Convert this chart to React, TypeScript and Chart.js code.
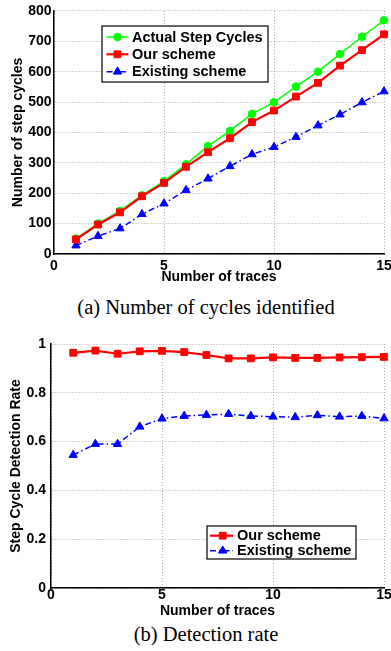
import React, { useEffect, useRef } from 'react';
import { Chart, registerables } from 'chart.js';

Chart.register(...registerables);

// ---------- data ----------
const traces = [1, 2, 3, 4, 5, 6, 7, 8, 9, 10, 11, 12, 13, 14, 15];
const actualCycles = [51, 100, 142, 193, 240, 295, 355, 405, 461, 499, 551, 600, 658, 715, 769];
const ourCycles = [48, 97, 137, 190, 234, 287, 335, 381, 434, 472, 518, 563, 620, 671, 723];
const existingCycles = [28, 59, 84, 131, 166, 210, 248, 289, 328, 352, 385, 423, 459, 499, 535];

const ourRate = [0.964, 0.973, 0.96, 0.97, 0.972, 0.967, 0.955, 0.941, 0.941, 0.945, 0.943, 0.943, 0.945, 0.946, 0.947];
const existingRate = [0.545, 0.59, 0.59, 0.661, 0.694, 0.705, 0.709, 0.713, 0.705, 0.702, 0.7, 0.708, 0.702, 0.705, 0.695];

const xTicks = [0, 5, 10, 15];
const xTickLabels = ['0', '5', '10', '15'];
const cycleTicks = [0, 100, 200, 300, 400, 500, 600, 700, 800];
const cycleTickLabels = ['0', '100', '200', '300', '400', '500', '600', '700', '800'];
const rateTicks = [0, 0.2, 0.4, 0.6, 0.8, 1];
const rateTickLabels = ['0', '0.2', '0.4', '0.6', '0.8', '1'];

const seriesNamesA = ['Actual Step Cycles', 'Our scheme', 'Existing scheme'];
const seriesNamesB = ['Our scheme', 'Existing scheme'];
const xTitle = 'Number of traces';
const yTitleA = 'Number of step cycles';
const yTitleB = 'Step Cycle Detection Rate';
const captionA = '(a) Number of cycles identified';
const captionB = '(b) Detection rate';

// ---------- styles ----------
const FONT = "'Liberation Sans', Arial, Helvetica, sans-serif";
const GREEN = '#00ff00';
const RED = '#ff0000';
const BLUE = '#0000ff';

function drawMarker(ctx: CanvasRenderingContext2D, style: string, x: number, y: number, r: number, color: string) {
  ctx.save();
  ctx.setLineDash([]);
  ctx.fillStyle = color;
  ctx.strokeStyle = color;
  ctx.lineWidth = 1;
  ctx.beginPath();
  if (style === 'circle') {
    ctx.arc(x, y, r, 0, Math.PI * 2);
  } else if (style === 'rect') {
    const s = r * Math.SQRT1_2;
    ctx.rect(x - s, y - s, 2 * s, 2 * s);
  } else {
    let rad = 0;
    ctx.moveTo(x + Math.sin(rad) * r, y - Math.cos(rad) * r);
    rad += (2 * Math.PI) / 3;
    ctx.lineTo(x + Math.sin(rad) * r, y - Math.cos(rad) * r);
    rad += (2 * Math.PI) / 3;
    ctx.lineTo(x + Math.sin(rad) * r, y - Math.cos(rad) * r);
    ctx.closePath();
  }
  ctx.fill();
  ctx.stroke();
  ctx.restore();
}

const boxLegend = {
  id: 'boxLegend',
  afterDraw(chart: any, _args: any, opts: any) {
    const ctx: CanvasRenderingContext2D = chart.ctx;
    const { box, rows, lineX0, lineX1, markerX, textX } = opts;
    ctx.save();
    ctx.fillStyle = '#ffffff';
    ctx.fillRect(box.x, box.y, box.w, box.h);
    ctx.strokeStyle = '#000000';
    ctx.lineWidth = 1.2;
    ctx.setLineDash([]);
    ctx.strokeRect(box.x, box.y, box.w, box.h);
    chart.data.datasets.forEach((ds: any, i: number) => {
      const y = rows[i];
      ctx.save();
      ctx.strokeStyle = ds.borderColor;
      ctx.lineWidth = ds.borderWidth;
      ctx.setLineDash(ds.borderDash || []);
      ctx.beginPath();
      ctx.moveTo(lineX0, y);
      ctx.lineTo(lineX1, y);
      ctx.stroke();
      ctx.restore();
      drawMarker(ctx, ds.pointStyle, markerX, y, ds.pointRadius, ds.borderColor);
      ctx.fillStyle = '#000000';
      ctx.font = `bold 14.5px ${FONT}`;
      ctx.textAlign = 'left';
      ctx.textBaseline = 'middle';
      ctx.fillText(ds.label, textX, y + 0.5);
    });
    ctx.restore();
  },
};

function pts(ys: number[]) {
  return traces.map((t, i) => ({ x: t, y: ys[i] }));
}

function makeDataset(label: string, ys: number[], kind: 'green' | 'red' | 'blue') {
  const base: any = {
    label,
    data: pts(ys),
    clip: false,
    pointBorderWidth: 1,
    tension: 0,
  };
  if (kind === 'green') {
    return { ...base, borderColor: GREEN, backgroundColor: GREEN, pointBackgroundColor: GREEN, pointBorderColor: GREEN, borderWidth: 1.5, pointStyle: 'circle', pointRadius: 3.8, order: 2 };
  }
  if (kind === 'red') {
    return { ...base, borderColor: RED, backgroundColor: RED, pointBackgroundColor: RED, pointBorderColor: RED, borderWidth: 2.2, pointStyle: 'rect', pointRadius: 4.8, order: 1 };
  }
  return { ...base, borderColor: BLUE, backgroundColor: BLUE, pointBackgroundColor: BLUE, pointBorderColor: BLUE, borderWidth: 1.5, borderDash: [6, 3, 1.5, 3], pointStyle: 'triangle', pointRadius: 4.8, order: 3 };
}

function makeOptions(p: {
  padTop: number;
  yMax: number;
  yTicks: number[];
  yTickLabels: string[];
  yWidth: number;
  yTickPad: number;
  yTitle: string;
  yTitlePad: number;
  xHeight: number;
  xTickPad: number;
  legend: any;
}) {
  const grid = { color: '#a8a8a8', lineWidth: 1, drawTicks: false };
  const border = { display: true, color: '#000000', width: 1.5, dash: [1, 2] };
  return {
    responsive: false,
    animation: false,
    events: [],
    layout: { padding: { top: p.padTop, right: 16, bottom: 0, left: 0 } },
    plugins: {
      legend: { display: false },
      tooltip: { enabled: false },
      boxLegend: p.legend,
    },
    scales: {
      x: {
        type: 'linear',
        min: 0,
        max: 15,
        afterBuildTicks: (s: any) => {
          s.ticks = xTicks.map((v) => ({ value: v }));
        },
        afterFit: (s: any) => {
          s.height = p.xHeight;
        },
        grid,
        border,
        ticks: {
          color: '#000000',
          font: { family: FONT, size: 14, weight: 'bold', lineHeight: 1 },
          padding: p.xTickPad,
          maxRotation: 0,
          autoSkip: false,
          callback: (_v: any, i: number) => xTickLabels[i],
        },
        title: {
          display: true,
          text: xTitle,
          color: '#000000',
          font: { family: FONT, size: 14, weight: 'bold', lineHeight: 1.2 },
          padding: { top: 0, bottom: 0 },
        },
      },
      y: {
        type: 'linear',
        min: 0,
        max: p.yMax,
        afterBuildTicks: (s: any) => {
          s.ticks = p.yTicks.map((v) => ({ value: v }));
        },
        afterFit: (s: any) => {
          s.width = p.yWidth;
        },
        grid,
        border,
        ticks: {
          color: '#000000',
          font: { family: FONT, size: 14, weight: 'bold', lineHeight: 1.2 },
          padding: p.yTickPad,
          autoSkip: false,
          callback: (_v: any, i: number) => p.yTickLabels[i],
        },
        title: {
          display: true,
          text: p.yTitle,
          color: '#000000',
          font: { family: FONT, size: 14, weight: 'bold', lineHeight: 1.2 },
          padding: { top: p.yTitlePad, bottom: 0 },
        },
      },
    },
  };
}

const TOP_B = 320;

export default function App() {
  const refA = useRef<HTMLCanvasElement | null>(null);
  const refB = useRef<HTMLCanvasElement | null>(null);

  useEffect(() => {
    document.body.style.margin = '0';
    const chartA = new Chart(refA.current as HTMLCanvasElement, {
      type: 'line',
      data: {
        datasets: [
          makeDataset(seriesNamesA[0], actualCycles, 'green'),
          makeDataset(seriesNamesA[1], ourCycles, 'red'),
          makeDataset(seriesNamesA[2], existingCycles, 'blue'),
        ],
      },
      options: makeOptions({
        padTop: 10,
        yMax: 800,
        yTicks: cycleTicks,
        yTickLabels: cycleTickLabels,
        yWidth: 54,
        yTickPad: 2.5,
        yTitle: yTitleA,
        yTitlePad: 9.6,
        xHeight: 32,
        xTickPad: 5,
        legend: {
          box: { x: 102, y: 26, w: 166, h: 56 },
          rows: [37, 54.3, 71.7],
          lineX0: 106.5,
          lineX1: 128.5,
          markerX: 117.5,
          textX: 132,
        },
      }) as any,
      plugins: [boxLegend as any],
    });
    const chartB = new Chart(refB.current as HTMLCanvasElement, {
      type: 'line',
      data: {
        datasets: [
          makeDataset(seriesNamesB[0], ourRate, 'red'),
          makeDataset(seriesNamesB[1], existingRate, 'blue'),
        ],
      },
      options: makeOptions({
        padTop: 344 - TOP_B,
        yMax: 1,
        yTicks: rateTicks,
        yTickLabels: rateTickLabels,
        yWidth: 51,
        yTickPad: 5,
        yTitle: yTitleB,
        yTitlePad: 8,
        xHeight: 620 - 588,
        xTickPad: 0,
        legend: {
          box: { x: 207, y: 526 - TOP_B, w: 149, h: 33 },
          rows: [535.7 - TOP_B, 550.7 - TOP_B],
          lineX0: 210,
          lineX1: 233,
          markerX: 222.7,
          textX: 237,
        },
      }) as any,
      plugins: [boxLegend as any],
    });
    return () => {
      chartA.destroy();
      chartB.destroy();
    };
  }, []);

  const captionStyle: React.CSSProperties = {
    position: 'absolute',
    left: 0,
    width: 412,
    textAlign: 'center',
    fontFamily: "'Liberation Serif', 'Times New Roman', serif",
    fontSize: '20.5px',
    lineHeight: '20.5px',
    whiteSpace: 'nowrap',
    color: '#000',
  };

  return (
    <div style={{ position: 'fixed', left: 0, top: 0, width: 391, height: 651, overflow: 'hidden', background: '#fff' }}>
      <canvas ref={refA} width={400} height={286} style={{ position: 'absolute', left: 0, top: 0, display: 'block' }} />
      <div style={{ ...captionStyle, top: 296.8 }}>{captionA}</div>
      <canvas ref={refB} width={400} height={620 - TOP_B} style={{ position: 'absolute', left: 0, top: TOP_B, display: 'block' }} />
      <div style={{ ...captionStyle, top: 623.8 }}>{captionB}</div>
    </div>
  );
}
